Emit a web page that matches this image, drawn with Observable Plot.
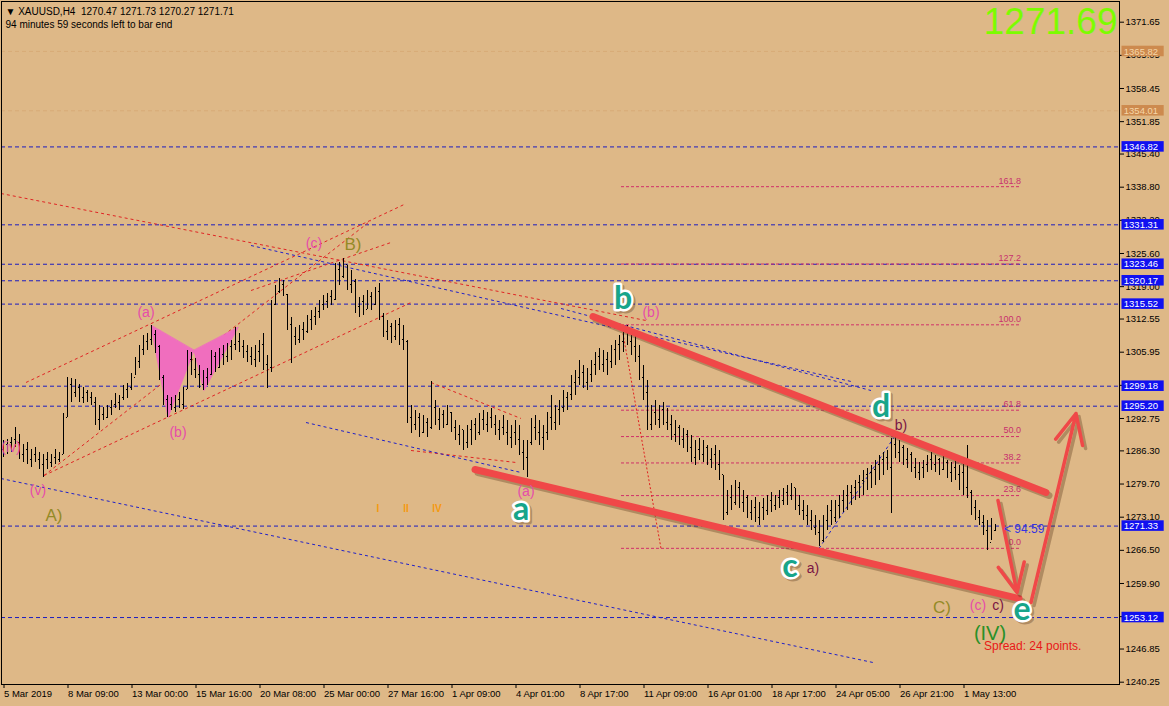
<!DOCTYPE html>
<html><head><meta charset="utf-8">
<script src="https://cdn.jsdelivr.net/npm/d3@7"></script>
<script src="https://cdn.jsdelivr.net/npm/@observablehq/plot@0.6"></script>
<style>
html,body{margin:0;padding:0;background:#DEB887;overflow:hidden;}
#chart svg{display:block;}
</style></head><body><div id="chart"></div>
<script>
// ---------- OHLC data (XAUUSD, H4), bar index 0..248 ----------
const firstOpen = 1286.5;
const highs = [
1288.4,1288.5,1289.0,1291.0,1289.5,1287.5,1288.0,1286.5,1287.0,1286.0,
1285.5,1286.0,1285.5,1286.5,1286.0,1293.8,1301.0,1300.8,1300.5,1299.5,
1299.0,1298.3,1298.0,1297.0,1295.3,1294.9,1295.3,1296.3,1297.7,1297.3,
1299.3,1299.7,1301.7,1304.9,1307.3,1309.3,1309.7,1311.3,1310.3,1307.3,
1301.3,1297.3,1296.9,1297.3,1297.9,1299.0,1306.3,1305.9,1304.7,1303.3,
1302.3,1302.7,1306.3,1305.9,1306.7,1307.3,1307.7,1308.3,1310.9,1309.7,
1308.3,1307.3,1306.9,1307.3,1308.3,1309.7,1305.3,1316.2,1319.2,1320.6,
1320.2,1317.5,1312.9,1310.9,1311.3,1311.9,1313.3,1314.3,1314.9,1316.2,
1317.2,1317.6,1318.2,1323.6,1323.8,1324.6,1323.2,1322.2,1320.5,1316.8,
1317.2,1318.2,1317.8,1318.8,1319.6,1313.7,1312.3,1311.7,1312.3,1312.7,
1311.3,1308.3,1295.3,1294.3,1293.7,1293.3,1292.7,1300.1,1296.3,1294.7,
1294.3,1295.3,1294.0,1292.3,1291.3,1290.4,1291.3,1292.3,1292.7,1293.7,
1294.3,1293.9,1294.7,1293.3,1292.3,1293.3,1292.3,1291.3,1292.3,1291.3,
1288.4,1288.4,1292.7,1293.3,1292.3,1291.3,1293.9,1297.3,1295.3,1296.3,
1298.3,1297.9,1301.3,1302.3,1304.3,1303.3,1302.7,1304.3,1305.9,1306.7,
1306.3,1305.9,1307.3,1308.3,1309.3,1310.7,1311.3,1310.3,1309.3,1307.3,
1303.3,1300.3,1295.3,1296.3,1295.3,1295.9,1294.7,1293.3,1292.3,1291.3,
1290.7,1290.4,1289.4,1288.4,1288.8,1288.4,1287.4,1286.8,1287.4,1286.4,
1281.4,1278.4,1279.4,1280.4,1280.0,1278.4,1277.4,1276.4,1277.0,1276.0,
1276.8,1277.4,1278.0,1277.4,1278.4,1278.8,1279.4,1279.8,1278.8,1277.4,
1276.4,1275.4,1274.4,1273.4,1272.4,1273.4,1275.4,1276.4,1276.4,1277.4,
1278.4,1279.4,1279.4,1280.4,1281.4,1282.4,1282.8,1283.4,1284.4,1285.4,
1286.0,1286.4,1288.8,1289.4,1288.4,1287.4,1286.8,1286.0,1284.8,1284.0,
1284.4,1285.4,1286.0,1285.4,1284.8,1285.4,1284.4,1284.0,1284.8,1283.4,
1284.4,1287.4,1278.4,1276.4,1274.4,1273.4,1272.4,1272.8,1271.73];
const lows = [
1285.0,1285.5,1286.0,1287.0,1284.5,1284.0,1283.5,1283.0,1284.0,1282.5,
1281.0,1282.5,1283.0,1283.5,1284.0,1285.5,1293.0,1296.0,1297.0,1296.0,
1295.8,1296.0,1295.3,1291.3,1290.4,1292.3,1292.7,1293.3,1294.7,1294.3,
1296.3,1296.7,1298.3,1301.3,1302.7,1305.3,1306.3,1307.3,1305.7,1300.3,
1295.3,1293.0,1294.3,1293.9,1294.7,1294.5,1298.5,1301.3,1300.7,1298.7,
1298.3,1299.3,1301.3,1301.9,1302.7,1303.3,1303.9,1304.3,1306.3,1305.9,
1304.7,1303.9,1303.3,1302.9,1303.9,1302.3,1298.7,1302.0,1315.2,1317.6,
1317.0,1310.3,1303.7,1307.3,1307.7,1308.3,1309.7,1310.3,1311.3,1312.7,
1314.3,1314.7,1315.2,1316.2,1319.2,1320.6,1318.2,1317.6,1313.7,1312.9,
1313.3,1314.5,1314.3,1315.2,1312.3,1308.9,1308.3,1307.7,1308.3,1307.3,
1306.3,1291.7,1289.8,1290.4,1289.0,1289.8,1289.0,1290.5,1291.3,1290.4,
1290.7,1291.3,1290.0,1288.4,1287.4,1286.4,1286.8,1287.4,1288.4,1289.4,
1290.4,1290.0,1290.7,1289.4,1288.4,1289.4,1287.4,1286.8,1287.4,1285.4,
1282.4,1281.0,1287.4,1288.4,1287.4,1286.4,1288.4,1290.4,1290.4,1291.3,
1293.9,1294.3,1296.3,1297.3,1299.3,1298.7,1298.3,1299.9,1301.3,1302.3,
1301.9,1301.3,1302.7,1303.3,1304.3,1305.9,1307.3,1305.3,1303.9,1300.3,
1296.3,1290.4,1290.4,1291.3,1290.7,1291.3,1290.4,1288.4,1288.0,1287.4,
1286.8,1286.0,1284.0,1283.4,1284.4,1284.0,1283.4,1282.8,1282.4,1280.4,
1272.4,1273.4,1274.4,1275.4,1274.8,1274.0,1272.8,1272.4,1272.0,1271.4,
1272.4,1273.4,1274.0,1274.4,1274.8,1275.4,1275.4,1276.4,1274.4,1273.4,
1272.4,1271.4,1270.4,1269.4,1267.3,1268.0,1270.4,1271.4,1272.0,1272.8,
1274.0,1274.4,1275.4,1276.4,1276.8,1277.4,1278.4,1278.8,1279.4,1280.4,
1281.4,1282.4,1273.8,1284.8,1284.0,1283.4,1282.8,1282.0,1280.8,1280.4,
1280.8,1282.0,1282.4,1282.0,1281.4,1282.4,1280.8,1280.0,1280.4,1278.4,
1277.4,1276.8,1273.4,1272.4,1271.4,1269.4,1266.5,1268.5,1270.27];
const closes = [
1287.5,1288.0,1288.5,1288.0,1285.5,1286.5,1284.5,1285.5,1284.5,1283.5,
1284.5,1284.0,1285.0,1284.5,1285.5,1293.0,1299.5,1298.0,1299.0,1297.0,
1298.0,1297.0,1296.0,1292.5,1293.5,1293.0,1295.0,1295.5,1296.0,1297.0,
1298.5,1299.0,1301.0,1304.0,1306.5,1308.0,1308.5,1309.5,1307.0,1301.0,
1296.5,1295.5,1295.0,1296.5,1295.5,1298.5,1304.5,1302.5,1301.5,1299.5,
1301.0,1301.5,1305.0,1303.0,1305.5,1305.0,1307.0,1307.5,1308.0,1307.0,
1306.0,1305.0,1304.5,1306.0,1307.5,1303.5,1303.0,1315.5,1318.0,1319.5,
1317.5,1311.5,1309.0,1308.5,1310.5,1310.0,1312.5,1313.0,1314.0,1315.5,
1316.0,1317.0,1316.5,1322.5,1321.0,1323.5,1319.5,1320.0,1315.0,1316.0,
1314.5,1317.0,1315.5,1318.0,1313.0,1310.0,1311.0,1309.0,1311.5,1308.5,
1308.0,1293.0,1291.5,1293.0,1290.0,1292.0,1291.0,1295.0,1292.5,1293.5,
1291.5,1294.0,1291.0,1289.5,1290.5,1288.0,1290.5,1291.5,1290.0,1292.5,
1291.5,1293.0,1291.5,1290.5,1291.0,1290.0,1289.0,1290.0,1288.5,1286.0,
1285.0,1288.0,1291.0,1290.0,1289.0,1290.0,1293.0,1292.0,1294.5,1295.0,
1297.0,1297.5,1300.0,1301.0,1302.0,1300.0,1301.5,1303.5,1305.0,1303.5,
1304.5,1304.0,1306.5,1307.5,1308.0,1310.0,1308.0,1307.0,1305.0,1301.0,
1298.0,1291.5,1294.0,1292.5,1294.5,1292.0,1291.5,1289.5,1291.0,1288.5,
1289.5,1287.0,1285.0,1286.5,1285.5,1287.0,1284.5,1285.5,1283.5,1281.5,
1274.0,1277.0,1276.0,1279.0,1276.0,1277.0,1274.0,1275.0,1273.0,1275.0,
1274.5,1276.5,1275.5,1277.0,1276.5,1278.0,1277.5,1279.0,1275.5,1274.5,
1273.5,1272.5,1271.0,1270.0,1268.5,1272.5,1274.5,1273.0,1275.5,1276.5,
1277.5,1278.0,1279.0,1280.0,1280.5,1281.5,1282.0,1282.5,1283.5,1284.5,
1285.0,1283.0,1287.5,1286.0,1287.0,1284.5,1285.5,1283.0,1282.0,1283.0,
1283.5,1284.5,1283.5,1284.5,1282.5,1284.0,1282.0,1283.0,1281.5,1282.0,
1279.0,1278.0,1275.0,1273.0,1272.0,1270.5,1268.0,1270.47,1271.71];

// ---------- axes ----------
const timeBars = [0,16,32,48,64,80,96,112,128,144,160,176,192,208,224,240];
const timeLabels = ["5 Mar 2019","8 Mar 09:00","13 Mar 00:00","15 Mar 16:00","20 Mar 08:00","25 Mar 00:00","27 Mar 16:00","1 Apr 09:00","4 Apr 01:00","8 Apr 17:00","11 Apr 09:00","16 Apr 01:00","18 Apr 17:00","24 Apr 05:00","26 Apr 21:00","1 May 13:00"];
const yTicks = [1371.65,1365.05,1358.45,1351.85,1345.40,1338.80,1332.20,1325.60,1319.00,1312.55,1305.95,1299.35,1292.75,1286.30,1279.70,1273.10,1266.50,1259.90,1253.30,1246.85,1240.25];

// ---------- levels ----------
const blueLevels = [1346.82,1331.31,1323.46,1320.17,1315.52,1299.18,1295.20,1271.33,1253.12];
const orangeLevels = [1365.82,1354.01];
const fibLevels = [161.8,127.2,100.0,61.8,50.0,38.2,23.6,0.0];
const fibHigh = 1311.4, fibLow = 1266.9, fibFromBar = 154.5, fibToBar = 254.5;
const fibDiagonal = [[155,1309.67,164.5,1266.87]];

// ---------- trend lines: [bar1, price1, bar2, price2] ----------
const redDashed = [
  [5.75,1299.92,100.75,1335.53],
  [10.25,1281.40,102,1315.84],
  [10.25,1281.40,92,1332.17],
  [-0.5,1337.54,160.75,1312.26],
  [107,1299.92,129.5,1292.75],
  [102,1286.38,128.25,1283.99],
  [62,1318.23,97,1327.79]
];
const blueDashed = [
  [-0.5,1280.80,217.5,1244.17],
  [75.75,1291.95,129.5,1282.0],
  [62,1327.19,212,1300.12],
  [139.5,1314.65,217,1298.32],
  [204,1266.87,222.75,1288.97]
];
const thickLines = [
  [147.5,1313.05,260.75,1278.02],
  [118,1282.6,254,1256.91]
];
const arrowsData = [
  [248.75,1276.42,253.5,1258.11],
  [257,1256.12,268.25,1293.74]
];
// butterfly pattern X-A-B and B-C-D
const butterfly = [
  {t:"XAB", bar:37, p:1311.26},{t:"XAB", bar:41.25, p:1292.95},{t:"XAB", bar:47.75, p:1306.29},
  {t:"BCD", bar:47.75, p:1306.29},{t:"BCD", bar:50.25, p:1298.32},{t:"BCD", bar:58.75, p:1310.87}
];

// ---------- wave labels ----------
const pinkLabels = [["(iv)",2,1286.98],["(v)",8.75,1278.41],["(a)",35.75,1313.85],["(b)",43.75,1289.96],["(c)",77.75,1327.58],["(a)",130.75,1278.22],["(b)",162,1313.85],["(c)",243.75,1255.52]];
const oliveLabels = [["A)",12.75,1273.44],["B)",87.5,1327.38],["C)",234.75,1255.12]];
const darkLabels = [["a)",202.5,1262.89],["b)",224.5,1291.35],["c)",248.75,1255.52]];
const orangeRoman = [["I",93.75,1274.83],["II",100.75,1274.83],["IV",108.5,1274.83]];
const tealLabels = [["a",129.5,1274.63],["b",155,1316.63],["c",196.75,1263.28],["d",219.5,1295.14],["e",254.75,1254.72]];

const header1 = "\u25BC XAUUSD,H4  1270.47 1271.73 1270.27 1271.71";
const header2 = "94 minutes 59 seconds left to bar end";
const bigPrice = "1271.69";
const spreadText = ["Spread: 24 points.",245.25,1247.36];
const timerText = ["< 94:59",250.25,1270.65];

// ---------- build ----------
const bars = highs.map((h,i)=>({i, h, l: lows[i], c: closes[i], o: i===0 ? firstOpen : closes[i-1]}));
const seg = a => a.map(([x1,y1,x2,y2])=>({x1,y1,x2,y2}));
const lab = a => a.map(([t,x,y])=>({t,x,y}));
const fib = fibLevels.map(l=>({l, p: fibLow + (fibHigh-fibLow)*l/100}));
const timeMap = new Map(timeBars.map((b,k)=>[b,timeLabels[k]]));
const blueBoxes = blueLevels.map(p=>({p}));
const orangeBoxes = orangeLevels.map(p=>({p}));
const FONT = "'Liberation Sans', Arial, sans-serif";
const shadow = "rgba(90,55,25,0.35)";

const chart = Plot.plot({
  width: 1169, height: 706,
  marginLeft: 1, marginRight: 50, marginTop: 1, marginBottom: 22,
  style: {background: "#DEB887", fontFamily: FONT, fontSize: "9.5px", color: "#000", overflow: "visible"},
  x: {type: "linear", domain: [-0.375, 279.125], axis: null},
  y: {type: "linear", domain: [1239.79, 1375.77], axis: null},
  marks: [
    Plot.ruleY(orangeLevels, {stroke: "#C8864A", strokeDasharray: "4,3", strokeOpacity: 0.25}),
    Plot.ruleY(blueLevels, {stroke: "#1C1CC0", strokeDasharray: "4,3"}),
    Plot.link(fib, {x1: fibFromBar, x2: fibToBar, y1: "p", y2: "p", stroke: "#D0306A", strokeDasharray: "3,2"}),
    Plot.text(fib, {x: fibToBar, y: "p", text: d => d.l.toFixed(1), textAnchor: "end", dy: -6, fill: "#C8306E", fontSize: 9}),
    Plot.link(seg(fibDiagonal), {x1:"x1",y1:"y1",x2:"x2",y2:"y2", stroke: "#E02020", strokeDasharray: "2,2"}),
    Plot.link(seg(redDashed), {x1:"x1",y1:"y1",x2:"x2",y2:"y2", stroke: "#E02424", strokeDasharray: "3,3"}),
    Plot.link(seg(blueDashed), {x1:"x1",y1:"y1",x2:"x2",y2:"y2", stroke: "#2020C8", strokeDasharray: "3,3"}),
    Plot.line(butterfly, {x: "bar", y: "p", z: "t", fill: "#F06EBE", stroke: "#F06EBE", strokeWidth: 1, curve: "linear-closed"}),
    // OHLC bars
    Plot.ruleX(bars, {x: "i", y1: "l", y2: "h", stroke: "#000", strokeWidth: 1, shapeRendering: "crispEdges"}),
    Plot.link(bars, {x1: d => d.i - 0.3, x2: "i", y1: "o", y2: "o", stroke: "#000", shapeRendering: "crispEdges"}),
    Plot.link(bars, {x1: "i", x2: d => d.i + 0.3, y1: "c", y2: "c", stroke: "#000", shapeRendering: "crispEdges"}),
    // thick channel + arrows
    Plot.link(seg(thickLines), {x1:"x1",y1:"y1",x2:"x2",y2:"y2", stroke: shadow, strokeWidth: 7, strokeLinecap: "round", dx: 3, dy: 3}),
    Plot.link(seg(thickLines), {x1:"x1",y1:"y1",x2:"x2",y2:"y2", stroke: "#F04848", strokeWidth: 7, strokeLinecap: "round"}),
    Plot.arrow(seg(arrowsData), {x1:"x1",y1:"y1",x2:"x2",y2:"y2", stroke: shadow, strokeWidth: 3.5, headLength: 14, headAngle: 50, dx: 3, dy: 3}),
    Plot.arrow(seg(arrowsData), {x1:"x1",y1:"y1",x2:"x2",y2:"y2", stroke: "#F04848", strokeWidth: 3.5, headLength: 14, headAngle: 50}),
    // labels
    Plot.text(lab(pinkLabels), {x: "x", y: "y", text: "t", fill: "#E64CAA", fontSize: 14}),
    Plot.text(lab(oliveLabels), {x: "x", y: "y", text: "t", fill: "#948A26", fontSize: 17}),
    Plot.text(lab(darkLabels), {x: "x", y: "y", text: "t", fill: "#7A1444", fontSize: 14}),
    Plot.text(lab(orangeRoman), {x: "x", y: "y", text: "t", fill: "#F59A10", fontSize: 10, fontWeight: "bold"}),
    Plot.text([["(IV)",246.75,1249.95]].map(([t,x,y])=>({t,x,y})), {x: "x", y: "y", text: "t", fill: "#2A9028", fontSize: 20}),
    Plot.text([spreadText].map(([t,x,y])=>({t,x,y})), {x: "x", y: "y", text: "t", fill: "#E81818", fontSize: 12, textAnchor: "start"}),
    Plot.text([timerText].map(([t,x,y])=>({t,x,y})), {x: "x", y: "y", text: "t", fill: "#3434E0", fontSize: 12, textAnchor: "start"}),
    Plot.text(lab(tealLabels), {x: "x", y: "y", text: "t", fill: shadow, stroke: shadow, strokeWidth: 5, fontSize: 32, fontWeight: "bold", fontFamily: "Lato, sans-serif", dx: 2, dy: 2}),
    Plot.text(lab(tealLabels), {x: "x", y: "y", text: "t", fill: "#17A58A", stroke: "white", strokeWidth: 5, paintOrder: "stroke", fontSize: 32, fontWeight: "bold", fontFamily: "Lato, sans-serif"}),
    // header / big price
    Plot.text([header1], {frameAnchor: "top-left", text: d => d, dx: 4, dy: 6, fontSize: 10, fill: "#000"}),
    Plot.text([header2], {frameAnchor: "top-left", text: d => d, dx: 4, dy: 19, fontSize: 10, fill: "#000"}),
    Plot.text([bigPrice], {frameAnchor: "top-right", text: d => d, dx: -2, dy: 6, fontSize: 37, fill: "#7CFC00"}),
    // axes
    Plot.axisY(yTicks, {anchor: "right", tickSize: 4, tickPadding: 2, tickFormat: d => d.toFixed(2), fontSize: 9.5}),
    Plot.axisX(timeBars, {anchor: "bottom", tickSize: 4, tickPadding: 2, tickFormat: d => timeMap.get(d), textAnchor: "start", dx: 1, fontSize: 9.5}),
    // price boxes on right scale
    Plot.rect(orangeBoxes, {x1: 279.75, x2: 290.3, y1: d => d.p - 1.05, y2: d => d.p + 1.05, fill: "#CD8A4E"}),
    Plot.text(orangeBoxes, {x: 280.2, y: "p", text: d => d.p.toFixed(2), textAnchor: "start", fill: "#F6D6A8", fontSize: 9.5}),
    Plot.rect(blueBoxes, {x1: 279.75, x2: 290.3, y1: d => d.p - 1.05, y2: d => d.p + 1.05, fill: "#1010F0"}),
    Plot.text(blueBoxes, {x: 280.2, y: "p", text: d => d.p.toFixed(2), textAnchor: "start", fill: "#FFFFFF", fontSize: 9.5}),
    Plot.frame({stroke: "#000"})
  ]
});
document.getElementById("chart").appendChild(chart);
</script>
</body></html>
